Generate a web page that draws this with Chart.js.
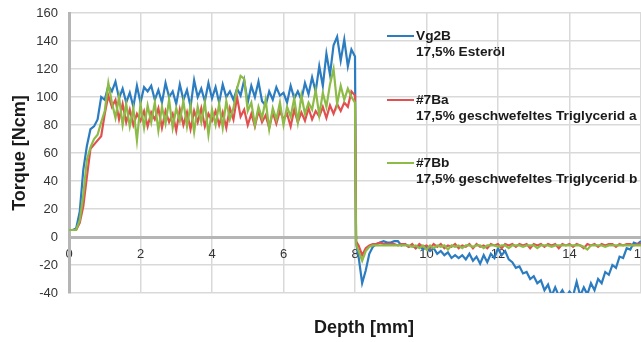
<!DOCTYPE html>
<html>
<head>
<meta charset="utf-8">
<script src="https://cdn.jsdelivr.net/npm/chart.js@4.4.1/dist/chart.umd.min.js"></script>
<style>
    html, body { margin: 0; padding: 0; background: #ffffff; }
    #wrap { position: relative; width: 641px; height: 342px; }
</style>
</head>
<body>
<div id="wrap"><canvas id="torqueChart"></canvas></div>
<script>
// depth in mm
const depth = [
    0.0, 0.1, 0.2, 0.3, 0.4, 0.5, 0.6, 0.7, 0.8, 0.9,
    1.0, 1.1, 1.2, 1.3, 1.4, 1.5, 1.6, 1.7, 1.8, 1.9,
    2.0, 2.1, 2.2, 2.3, 2.4, 2.5, 2.6, 2.7, 2.8, 2.9,
    3.0, 3.1, 3.2, 3.3, 3.4, 3.5, 3.6, 3.7, 3.8, 3.9,
    4.0, 4.1, 4.2, 4.3, 4.4, 4.5, 4.6, 4.7, 4.8, 4.9,
    5.0, 5.1, 5.2, 5.3, 5.4, 5.5, 5.6, 5.7, 5.8, 5.9,
    6.0, 6.1, 6.2, 6.3, 6.4, 6.5, 6.6, 6.7, 6.8, 6.9,
    7.0, 7.1, 7.2, 7.3, 7.4, 7.5, 7.6, 7.7, 7.8, 7.9,
    8.0, 8.03,
    8.1, 8.2, 8.3, 8.4, 8.5, 8.6, 8.7, 8.8, 8.9,
    9.0, 9.1, 9.2, 9.3, 9.4, 9.5, 9.6, 9.7, 9.8, 9.9,
    10.0, 10.1, 10.2, 10.3, 10.4, 10.5, 10.6, 10.7, 10.8, 10.9,
    11.0, 11.1, 11.2, 11.3, 11.4, 11.5, 11.6, 11.7, 11.8, 11.9,
    12.0, 12.1, 12.2, 12.3, 12.4, 12.5, 12.6, 12.7, 12.8, 12.9,
    13.0, 13.1, 13.2, 13.3, 13.4, 13.5, 13.6, 13.7, 13.8, 13.9,
    14.0, 14.1, 14.2, 14.3, 14.4, 14.5, 14.6, 14.7, 14.8, 14.9,
    15.0, 15.1, 15.2, 15.3, 15.4, 15.5, 15.6, 15.7, 15.8, 15.9,
    16.0
];

// Vg2B, 17,5% Esteröl
const torqueVg2B = [
    5, 5, 6, 18, 48, 65, 77, 79, 84, 100,
    98, 108, 104, 111, 99, 106, 96, 103, 93, 108,
    96, 107, 104, 108, 98, 105, 96, 110, 100, 104,
    95, 109, 98, 105, 93, 112, 100, 106, 97, 110,
    99, 107, 96, 109, 100, 104, 98, 106, 101, 112,
    96, 108, 100, 111, 97, 94, 104, 98, 107, 101,
    103, 96, 108, 99, 104, 98, 110, 102, 114, 104,
    122, 108, 131, 116, 137, 143, 126, 141, 122, 134,
    129, -4,
    -14, -33, -24, -12, -7, -5, -4, -3, -4,
    -4, -3, -3, -6, -5, -7, -6, -8, -6, -9,
    -7, -10, -8, -12, -10, -13, -11, -15, -13, -15,
    -13, -16, -12, -17, -14, -19, -13, -18, -12, -15,
    -8, -13, -10, -16, -18, -22, -21, -26, -25, -30,
    -28, -33, -31, -38, -34, -42, -36, -42, -38, -43,
    -39, -42, -32, -42, -36, -41, -33, -38, -30, -33,
    -25, -27, -20, -22, -14, -15, -8, -9, -4, -5,
    -3
];

// #7Ba, 17,5% geschwefeltes Triglycerid a
const torque7Ba = [
    5, 5, 5, 10, 22, 43, 63, 66, 69, 72,
    88, 101, 93, 98, 84, 95, 82, 91, 80, 88,
    83, 90, 79, 89, 84, 92, 78, 90, 82, 88,
    76, 91, 80, 89, 77, 90, 82, 92, 79, 88,
    83, 90, 80, 89, 78, 92, 84, 100, 86, 91,
    80, 88, 79, 90, 82, 87, 78, 89, 81, 90,
    84, 88, 79, 91, 82, 89, 83, 92, 84, 90,
    86, 93, 85, 94, 88, 95, 90, 96, 93, 104,
    101, -3,
    -6, -13, -8, -6, -5, -5, -4, -5, -5,
    -5, -5, -6, -5, -5, -7, -5, -8, -5, -7,
    -6, -8, -5, -7, -5, -8, -6, -7, -5, -8,
    -6, -7, -5, -8, -5, -7, -6, -8, -5, -6,
    -5, -8, -5, -6, -5, -7, -5, -6, -5, -8,
    -5, -6, -5, -7, -5, -6, -5, -8, -5, -6,
    -5, -7, -5, -6, -8, -5, -6, -5, -7, -5,
    -6, -5, -5, -7, -5, -6, -5, -5, -6, -5,
    -5
];

// #7Bb, 17,5% geschwefeltes Triglycerid b
const torque7Bb = [
    5, 5, 5, 12, 30, 55, 64, 70, 73, 82,
    90, 110, 96, 85, 100, 80, 95, 79, 92, 69,
    95, 78, 94, 82, 96, 76, 93, 81, 98, 78,
    92, 83, 97, 79, 94, 75, 93, 82, 96, 73,
    91, 80, 95, 78, 97, 84, 92, 106, 115, 113,
    90, 96, 80, 93, 85, 98, 77, 92, 84, 96,
    80, 93, 86, 99, 82, 101, 88, 96, 91, 105,
    87, 103, 93, 109, 120, 95, 108, 98, 106, 100,
    96, -5,
    -10, -17, -10, -7, -6, -6, -6, -6, -6,
    -6, -6, -6, -6, -6, -6, -7, -6, -8, -6,
    -9, -6, -8, -6, -7, -6, -9, -6, -7, -6,
    -8, -6, -6, -7, -6, -6, -8, -6, -6, -6,
    -7, -6, -6, -8, -6, -6, -6, -7, -6, -6,
    -6, -8, -6, -6, -6, -7, -6, -6, -6, -6,
    -6, -6, -6, -6, -7, -9, -6, -6, -6, -6,
    -7, -6, -6, -6, -6, -6, -6, -6, -6, -6,
    -6
];

const seriesNames = ['Vg2B', '#7Ba', '#7Bb'];
const seriesNotes = ['17,5% Esteröl', '17,5% geschwefeltes Triglycerid a', '17,5% geschwefeltes Triglycerid b'];
const seriesColors = ['#2b7cc1', '#e24f4f', '#8cbb46'];
const seriesValues = [torqueVg2B, torque7Ba, torque7Bb];

const depthTicks = [0, 2, 4, 6, 8, 10, 12, 14, 16];
const torqueTicks = [-40, -20, 0, 20, 40, 60, 80, 100, 120, 140, 160];

const labelFont = '"Liberation Sans", Arial, sans-serif';
const textColor = '#1a1a1a';

function toPoints(values) {
    return values.map(function (v, i) {
        return { x: depth[i], y: v };
    });
}

// no extra room for overhanging tick labels, the plot runs to the canvas edge
function noScalePadding(scale) {
    scale.paddingLeft = 0;
    scale.paddingRight = 0;
    scale.paddingTop = 0;
    scale.paddingBottom = 0;
}

// legend on the right, two lines per series, plus the x axis title
const sideLegend = {
    id: 'sideLegend',
    afterDraw(chart) {
        const ctx = chart.ctx;
        const rowY = [36, 100, 163];
        ctx.save();
        ctx.font = 'bold 13.7px ' + labelFont;
        ctx.textBaseline = 'middle';
        ctx.textAlign = 'left';
        for (let i = 0; i < seriesNames.length; i++) {
            ctx.strokeStyle = seriesColors[i];
            ctx.lineWidth = 2;
            ctx.beginPath();
            ctx.moveTo(387, rowY[i]);
            ctx.lineTo(414, rowY[i]);
            ctx.stroke();
            ctx.fillStyle = textColor;
            ctx.fillText(seriesNames[i], 416, rowY[i]);
            ctx.fillText(seriesNotes[i], 416, rowY[i] + 16.5);
        }
        ctx.font = 'bold 18px ' + labelFont;
        ctx.textAlign = 'center';
        ctx.fillText('Depth [mm]', 364, 328);
        ctx.restore();
    }
};

const config = {
    type: 'line',
    data: {
        datasets: seriesValues.map(function (values, i) {
            return {
                label: seriesNames[i],
                data: toPoints(values),
                borderColor: seriesColors[i],
                backgroundColor: seriesColors[i],
                borderWidth: 2.2,
                pointRadius: 0,
                tension: 0,
                order: 3 - i
            };
        })
    },
    options: {
        responsive: true,
        maintainAspectRatio: false,
        animation: false,
        layout: { padding: { top: 13, right: 0, bottom: 49, left: 0 } },
        plugins: {
            legend: { display: false },
            tooltip: { enabled: false }
        },
        scales: {
            x: {
                type: 'linear',
                position: { y: 0 },
                min: 0,
                max: 16,
                afterBuildTicks(scale) {
                    scale.ticks = depthTicks.map(function (v) { return { value: v }; });
                },
                afterFit: noScalePadding,
                ticks: {
                    autoSkip: false,
                    maxRotation: 0,
                    padding: 10,
                    color: '#333333',
                    font: { family: labelFont, size: 13 }
                },
                grid: { color: '#d9d9d9', lineWidth: 1.5, drawTicks: false },
                border: { color: '#b5b5b5', width: 3 }
            },
            y: {
                type: 'linear',
                min: -40,
                max: 160,
                afterBuildTicks(scale) {
                    scale.ticks = torqueTicks.map(function (v) { return { value: v }; });
                },
                afterFit(scale) {
                    scale.width = 69;
                    noScalePadding(scale);
                },
                ticks: {
                    padding: 11,
                    color: '#333333',
                    font: { family: labelFont, size: 13 }
                },
                grid: { color: '#d9d9d9', lineWidth: 1.5, drawTicks: false },
                border: { color: '#b5b5b5', width: 3 },
                title: {
                    display: true,
                    text: 'Torque [Ncm]',
                    color: textColor,
                    padding: { top: 9, bottom: 0 },
                    font: { family: labelFont, size: 18, weight: 'bold' }
                }
            }
        }
    },
    plugins: [sideLegend]
};

const torqueChart = new Chart(document.getElementById('torqueChart'), config);
</script>
</body>
</html>
